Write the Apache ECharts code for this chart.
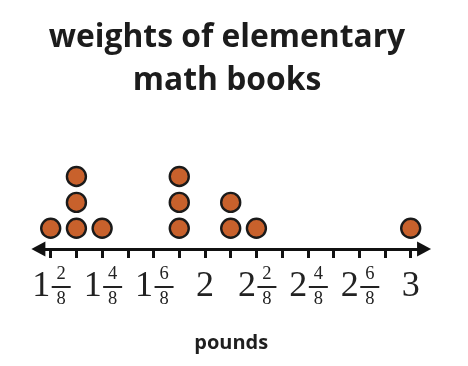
<!DOCTYPE html>
<html>
<head>
<meta charset="utf-8">
<style>html,body{margin:0;padding:0;background:#fff;}#chart{width:468px;height:366px;}</style>
<script src="https://cdn.jsdelivr.net/npm/echarts@6/dist/echarts.min.js"></script>
</head>
<body>
<div id="chart"></div>
<script>
// Data: each book's weight in pounds (one dot per book)
var weights = [1.25, 1.375, 1.375, 1.375, 1.5, 1.875, 1.875, 1.875, 2.125, 2.125, 2.25, 3];
// Tick positions every 1/8 pound
var tickValues = [1.25, 1.375, 1.5, 1.625, 1.75, 1.875, 2, 2.125, 2.25, 2.375, 2.5, 2.625, 2.75, 2.875, 3];
// Labelled ticks: [whole, numerator, denominator]
var labelValues = [1.25, 1.5, 1.75, 2, 2.25, 2.5, 2.75, 3];
var labelWholes = ['1', '1', '1', '2', '2', '2', '2', '3'];
var labelNums = ['2', '4', '6', '', '2', '4', '6', ''];
var labelDens = ['8', '8', '8', '', '8', '8', '8', ''];
var titleText = 'weights of elementary\nmath books';
var axisTitle = 'pounds';

// stack dots: count occurrences so far
var counts = {};
var points = weights.map(function (w) {
  counts[w] = (counts[w] || 0) + 1;
  return [w, counts[w]];
});

var chart = echarts.init(document.getElementById('chart'), null, {renderer: 'canvas'});
var option = {
  animation: false,
  backgroundColor: '#ffffff',
  title: {
    text: titleText,
    left: 222,
    top: 11,
    textAlign: 'center',
    textStyle: {
      fontFamily: 'Open Sans',
      fontWeight: 'bold',
      fontSize: 31.8,
      lineHeight: 43,
      color: '#1c1c1c'
    }
  },
  grid: {left: 38.36, right: 43.93, top: 145.4, bottom: 117, containLabel: false},
  xAxis: {
    type: 'value',
    min: 1.19,
    max: 3.065,
    splitLine: {show: false},
    axisLine: {
      show: true, onZero: false,
      symbol: ['triangle', 'triangle'],
      symbolSize: [15, 14],
      lineStyle: {color: '#111', width: 3}
    },
    axisTick: {
      show: true, length: 9,
      customValues: tickValues,
      lineStyle: {color: '#111', width: 3}
    },
    axisLabel: {
      show: true,
      margin: 14,
      customValues: labelValues,
      formatter: function (v) {
        var i = -1;
        for (var k = 0; k < labelValues.length; k++) {
          if (Math.abs(labelValues[k] - v) < 1e-6) { i = k; }
        }
        if (i < 0) return '';
        if (labelNums[i] === '') {
          return '{e| }\n{w|' + labelWholes[i] + '}\n{e| }';
        }
        return '{ws| }{num|' + labelNums[i] + '}\n{w|' + labelWholes[i] + '}{bar| }\n{ws| }{den|' + labelDens[i] + '}';
      },
      rich: {
        e: {fontSize: 18, lineHeight: 23},
        ws: {width: 21, fontSize: 18, lineHeight: 23, align: 'center'},
        w: {width: 21, fontFamily: 'Liberation Serif', fontSize: 36, lineHeight: 2, color: '#222', align: 'center'},
        num: {width: 19, fontFamily: 'Liberation Serif', fontSize: 18.5, lineHeight: 23, color: '#222', align: 'center'},
        den: {width: 19, fontFamily: 'Liberation Serif', fontSize: 18.5, lineHeight: 23, color: '#222', align: 'center'},
        bar: {width: 19, height: 2, lineHeight: 2, fontSize: 2, backgroundColor: '#222', align: 'center'}
      }
    },
    name: axisTitle,
    nameLocation: 'middle',
    nameGap: 84,
    nameTextStyle: {
      fontFamily: 'Open Sans',
      fontWeight: 'bold',
      fontSize: 20,
      color: '#1f1f1f'
    }
  },
  yAxis: {
    type: 'value',
    min: 0.2,
    max: 4.2,
    show: false
  },
  series: [{
    type: 'scatter',
    data: points,
    symbol: 'circle',
    symbolSize: 19,
    itemStyle: {color: '#c8612c', borderColor: '#1a1a1a', borderWidth: 2.4, opacity: 1},
    emphasis: {disabled: true},
    silent: true
  }]
};
chart.setOption(option);
</script>
</body>
</html>
